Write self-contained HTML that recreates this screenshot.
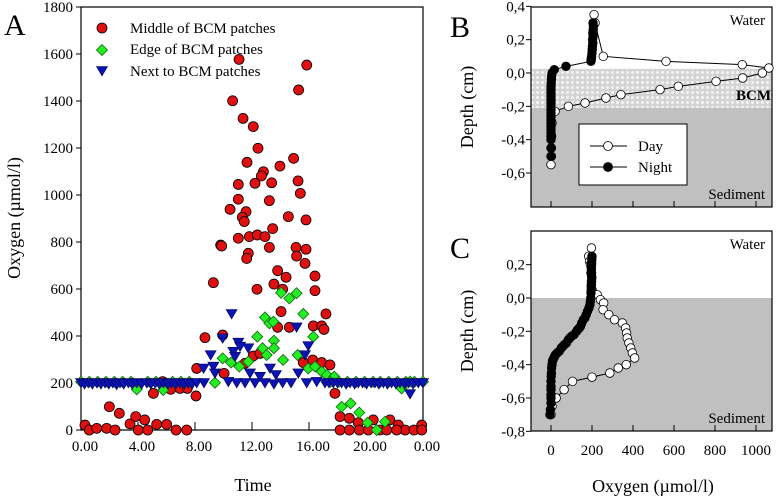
<!DOCTYPE html>
<html><head><meta charset="utf-8"><style>
html,body{margin:0;padding:0;background:#fff;}
svg{display:block;font-family:"Liberation Serif",serif;}
</style></head><body>
<svg id="chart" width="778" height="496" viewBox="0 0 778 496" xmlns="http://www.w3.org/2000/svg">
<defs>
<pattern id="bcmpat" width="5" height="5" patternUnits="userSpaceOnUse">
<rect width="5" height="5" fill="#d4d4d4"/>
<circle cx="2.5" cy="2.5" r="1.5" fill="#f4f4f4"/>
</pattern>
</defs>
<g id="gA"></g>
<g id="gB"></g>
<g id="gC"></g>
</svg>
<script>
// ---------- Panel A data ----------
const middleHours = [11.09,15.84,15.27,10.64,11.37,12.09,12.42,11.65,14.92,13.96,12.80,12.66,11.04,12.21,13.38,15.23,15.39,11.04,13.22,10.46,11.58,11.32,11.46,14.55,15.79,13.45,11.81,12.37,12.91,11.04,9.80,
 9.87,11.74,11.63,13.22,15.09,15.79,15.13,15.72,13.80,14.39,16.42,13.54,14.15,9.29,12.35,16.42,14.04,17.19,13.80,14.62,16.30,16.89,17.05,9.94,8.70,11.51,12.09,12.56,15.60,16.26,16.89,17.47,8.12,10.04,8.07,17.82,
 0.28,0.58,1.10,1.80,2.39,1.99,2.69,3.44,3.84,4.47,4.02,4.68,5.31,6.01,6.67,7.42,5.08,5.73,6.29,6.95,7.46,18.18,18.83,19.46,18.18,18.83,19.53,20.51,20.16,20.98,21.68,22.27,22.74,23.37,23.91,23.91,21.45,22.15];
const middleValues = [1577,1553,1447,1401,1326,1291,1199,1139,1156,1123,1099,1081,1045,1050,1052,1060,1007,982,976,939,929,905,887,908,894,857,823,830,823,816,787,
 783,752,730,777,777,769,740,709,678,650,655,621,599,627,599,593,504,494,437,437,443,443,428,404,393,284,315,326,287,298,287,277,262,241,145,156,
 21,0,7,7,0,99,71,26,57,43,0,0,24,24,0,0,156,206,173,177,177,57,50,31,0,0,0,43,0,0,43,21,0,0,21,0,0,0];
const edgeHours = [14.04,14.62,15.13,15.60,16.30,12.91,13.22,13.50,12.37,13.54,12.74,13.03,13.54,14.18,15.20,9.94,10.53,11.11,11.74,15.95,16.42,16.89,17.26,17.77,9.40,18.29,18.92,19.53,20.11,20.75,21.33,3.91,5.77,22.5,23.09,
 0,0.58,1.17,1.75,2.34,2.92,3.51,4.68,5.26,6.43,7.01,7.6,17.5,18.1,18.7,19.3,19.9,20.5,21.0,21.6,22.2,22.8,23.4,24];
const edgeValues = [584,560,582,494,397,479,454,461,397,380,348,319,348,298,319,305,287,270,291,262,270,248,234,227,201,99,113,74,31,0,35,173,170,177,206,
 205,205,205,205,205,205,205,205,205,205,205,205,205,205,205,205,205,205,205,205,205,205,205,205];
const nextHours = [10.57,9.94,9.10,8.6,9.29,9.40,10.69,11.04,11.74,10.81,11.16,11.86,12.56,13.26,13.68,15.13,15.95,15.72,15.25,23.09,
 0,0.25,0.51,0.8,1.10,1.4,1.68,1.95,2.22,2.5,2.74,3.0,3.32,3.6,3.91,4.25,4.61,4.9,5.19,5.5,5.78,6.1,6.36,6.65,6.95,7.25,7.53,7.8,8.12,8.63,10.34,10.93,11.51,12.21,12.91,13.54,14.15,14.74,15.84,16.54,17.12,17.4,17.71,18.0,18.29,18.6,18.88,19.2,19.46,19.75,20.04,20.35,20.63,20.9,21.22,21.5,21.80,22.1,22.39,22.7,22.97,23.3,23.67,24];
const nextValues = [494,390,319,262,270,241,333,372,348,312,355,241,227,262,234,437,357,319,241,153,
 200,195,200,195,200,195,200,195,200,192,200,195,200,195,200,195,200,195,200,195,200,195,200,195,200,195,200,195,200,200,205,200,200,200,200,195,200,200,200,205,200,200,200,200,200,195,200,195,200,200,195,200,200,195,200,195,200,195,200,195,200,195,200,200];
const xTickLabelsA = ["0.00","4.00","8.00","12.00","16.00","20.00","0.00"];
const xTickHoursA = [0,4,8,12,16,20,24];
const yTicksA = [0,200,400,600,800,1000,1200,1400,1600,1800];

// ---------- Panel B data ----------
const bDayOxygen = [210,215,255,561,933,1063,1031,935,805,621,532,341,268,166,85,20,5,3,2,2,0];
const bDayDepth  = [0.35,0.30,0.10,0.07,0.05,0.03,0.0,-0.03,-0.05,-0.08,-0.10,-0.13,-0.15,-0.18,-0.20,-0.23,-0.30,-0.38,-0.45,-0.50,-0.55];
const bNightOxygen = [205,207,206,204,205,203,204,202,201,200,198,197,196,195,73,16,5,3,2,1,0,0,0,0,0,0,0,0,0,0,0,0,0,0,0,0,0,0,0];
const bNightDepth  = [0.30,0.28,0.26,0.24,0.22,0.20,0.18,0.16,0.14,0.12,0.10,0.09,0.08,0.07,0.04,0.02,0.0,-0.02,-0.04,-0.06,-0.08,-0.10,-0.12,-0.14,-0.16,-0.18,-0.20,-0.22,-0.24,-0.26,-0.28,-0.30,-0.32,-0.34,-0.36,-0.38,-0.40,-0.45,-0.50];

// ---------- Panel C data ----------
const cDayOxygen = [197,184,188,192,195,197,200,225,241,257,254,282,310,348,364,369,372,380,389,397,408,367,328,287,200,105,64,25,5,0];
const cDayDepth  = [0.30,0.25,0.22,0.20,0.15,0.10,0.05,0.02,-0.01,-0.03,-0.07,-0.10,-0.13,-0.15,-0.18,-0.21,-0.24,-0.27,-0.30,-0.33,-0.36,-0.40,-0.42,-0.45,-0.475,-0.50,-0.55,-0.60,-0.65,-0.70];
const cNightOxygen = [200,199,198,198,197,197,198,198,199,198,197,196,196,195,194,192,190,185,178,172,165,158,150,144,138,130,125,112,100,92,85,75,65,58,50,40,30,22,18,14,10,7,5,3,2,1,0,0,0,0,0,0,-3,-5];
const cNightDepth  = [0.25,0.23,0.21,0.20,0.18,0.17,0.15,0.13,0.12,0.10,0.08,0.07,0.05,0.03,0.0,-0.02,-0.04,-0.06,-0.08,-0.10,-0.12,-0.13,-0.15,-0.17,-0.18,-0.19,-0.20,-0.22,-0.23,-0.24,-0.25,-0.27,-0.28,-0.29,-0.30,-0.32,-0.33,-0.34,-0.35,-0.36,-0.37,-0.38,-0.40,-0.42,-0.45,-0.47,-0.50,-0.53,-0.55,-0.58,-0.60,-0.63,-0.67,-0.70];
const depthTicksB = [0.4,0.2,0.0,-0.2,-0.4,-0.6];
const depthTicksC = [0.2,0.0,-0.2,-0.4,-0.6,-0.8];
const oxyTicks = [0,200,400,600,800,1000];

const NS = "http://www.w3.org/2000/svg";
function mk(parent, tag, attrs, text) {
  const el = document.createElementNS(NS, tag);
  for (const k in attrs) el.setAttribute(k, attrs[k]);
  if (text !== undefined) el.textContent = text;
  parent.appendChild(el);
  return el;
}

// Scales
const xA = h => 81 + h * (342 / 24);
const yA = v => 430 - v * (423 / 1800);
const xO = o => 551 + o * (41 / 200);
const yBd = d => 73 - d * (33.33 / 0.2);
const yCd = d => 298 - d * (33.33 / 0.2);

function circle(g, x, y, r, fill, name) {
  const c = mk(g, "circle", {cx: x, cy: y, r: r, fill: fill, stroke: "#000", "stroke-width": 0.8});
  
  
  return c;
}
function diamond(g, x, y, s, name) {
  const p = mk(g, "polygon", {points: `${x},${y-s} ${x+s},${y} ${x},${y+s} ${x-s},${y}`, fill: "#22ee22", stroke: "#116611", "stroke-width": 0.8});
  
  
  return p;
}
function tri(g, x, y, s, name) {
  const p = mk(g, "polygon", {points: `${x-s},${y-s*0.8} ${x+s},${y-s*0.8} ${x},${y+s*0.9}`, fill: "#0a14b4", stroke: "#000050", "stroke-width": 0.6});
  
  
  return p;
}
function txt(g, x, y, s, size, anchor, name, extra) {
  const t = mk(g, "text", Object.assign({x: x, y: y, "font-size": size, "text-anchor": anchor || "start", fill: "#000"}, extra || {}), s);
  
  
  return t;
}

// ---------- Panel A ----------
const gA = document.getElementById("gA");
txt(gA, 4, 35, "A", 30, "start", "panel-a-label");
const frameA = mk(gA, "rect", {x: 81, y: 7, width: 342, height: 423, fill: "none", stroke: "#000", "stroke-width": 1.2});


yTicksA.forEach(v => {
  const l = mk(gA, "line", {x1: 76, x2: 81, y1: yA(v), y2: yA(v), stroke: "#000"});
  
  
  txt(gA, 73, yA(v) + 5, String(v), 15, "end", "y-tick-label-a");
});
xTickHoursA.forEach((h, i) => {
  const l = mk(gA, "line", {x1: xA(h), x2: xA(h), y1: 430, y2: 422, stroke: "#000"});
  
  
  txt(gA, xA(h) + 4, 451, xTickLabelsA[i], 15, "middle", "x-tick-label-a");
});
txt(gA, 253, 491, "Time", 18, "middle", "x-axis-title-a");
txt(gA, 20, 218, "Oxygen (µmol/l)", 18, "middle", "y-axis-title-a", {transform: "rotate(-90 20 218)"});
middleHours.forEach((h, i) => circle(gA, xA(h), yA(middleValues[i]), 5, "#e01010", "middle-point"));
edgeHours.forEach((h, i) => diamond(gA, xA(h), yA(edgeValues[i]), 5.5, "edge-point"));
nextHours.forEach((h, i) => tri(gA, xA(h), yA(nextValues[i]), 5.5, "next-point"));
// legend
const legA = mk(gA, "g", {});


circle(legA, 102, 28, 5, "#e01010", "legend-marker-middle");
diamond(legA, 102, 50, 5.5, "legend-marker-edge");
tri(legA, 102, 71, 5.5, "legend-marker-next");
txt(legA, 130, 33, "Middle of BCM patches", 15, "start", "legend-entry-middle");
txt(legA, 130, 54, "Edge of BCM patches", 15, "start", "legend-entry-edge");
txt(legA, 130, 76, "Next to BCM patches", 15, "start", "legend-entry-next");

// ---------- Depth panels ----------
function depthPanel(g, top, yD, ticks, dayO, dayD, nightO, nightD, isB) {
  const left = 531, w = 241, h = 200;
  if (isB) {
    const band = mk(g, "rect", {x: left, y: yD(0.025), width: w, height: yD(-0.21) - yD(0.025), fill: "url(#bcmpat)"});
    
    
    const sed = mk(g, "rect", {x: left, y: yD(-0.21), width: w, height: top + h - yD(-0.21), fill: "#c0c0c0"});
    
    
  } else {
    const sed = mk(g, "rect", {x: left, y: yD(0), width: w, height: top + h - yD(0), fill: "#c0c0c0"});
    
    
  }
  const fr = mk(g, "rect", {x: left, y: top, width: w, height: h, fill: "none", stroke: "#000", "stroke-width": 1.2});
  
  
  ticks.forEach(d => {
    const l = mk(g, "line", {x1: left - 5, x2: left, y1: yD(d), y2: yD(d), stroke: "#000"});
    
    
    txt(g, left - 6, yD(d) + 5, d.toFixed(1).replace(".", ",").replace("-0,0", "0,0"), 15, "end", "y-tick-label");
  });
  oxyTicks.forEach(o => {
    const l = mk(g, "line", {x1: xO(o), x2: xO(o), y1: top + h, y2: top + h - 6, stroke: "#000"});
    
    
  });
  const dl = mk(g, "polyline", {points: dayO.map((o, i) => xO(o) + "," + yD(dayD[i])).join(" "), fill: "none", stroke: "#000", "stroke-width": 1});
  
  
  dayO.forEach((o, i) => circle(g, xO(o), yD(dayD[i]), 4.3, "#fff", "day-point"));
  const nl = mk(g, "polyline", {points: nightO.map((o, i) => xO(o) + "," + yD(nightD[i])).join(" "), fill: "none", stroke: "#000", "stroke-width": 1});
  
  
  nightO.forEach((o, i) => circle(g, xO(o), yD(nightD[i]), 4.3, "#000", "night-point"));
  txt(g, 765, top + 18, "Water", 15, "end", "water-label");
  txt(g, 765, top + h - 8, "Sediment", 15, "end", "sediment-label");
  txt(g, 473, top + 100, "Depth (cm)", 18, "middle", "y-axis-title", {transform: `rotate(-90 473 ${top + 100})`});
}

const gB = document.getElementById("gB");
txt(gB, 450, 37, "B", 30, "start", "panel-b-label");
depthPanel(gB, 7, yBd, depthTicksB, bDayOxygen, bDayDepth, bNightOxygen, bNightDepth, true);
txt(gB, 771, 100, "BCM", 15, "end", "bcm-label", {"font-weight": "bold"});
const legB = mk(gB, "g", {});


const lbox = mk(legB, "rect", {x: 579, y: 124, width: 108, height: 61, fill: "#fff", stroke: "#000", "stroke-width": 1});


mk(legB, "line", {x1: 590, x2: 627, y1: 146, y2: 146, stroke: "#000"});
circle(legB, 608, 146, 4.5, "#fff", "legend-marker-day");
txt(legB, 638, 151, "Day", 15, "start", "legend-entry-day");
mk(legB, "line", {x1: 590, x2: 627, y1: 167, y2: 167, stroke: "#000"});
circle(legB, 608, 167, 4.5, "#000", "legend-marker-night");
txt(legB, 638, 172, "Night", 15, "start", "legend-entry-night");

const gC = document.getElementById("gC");
txt(gC, 450, 258, "C", 30, "start", "panel-c-label");
depthPanel(gC, 231, yCd, depthTicksC, cDayOxygen, cDayDepth, cNightOxygen, cNightDepth, false);
oxyTicks.forEach(o => txt(gC, xO(o), 455, String(o), 15, "middle", "x-tick-label-c"));
txt(gC, 653, 492, "Oxygen (µmol/l)", 18, "middle", "x-axis-title-c");
</script>
</body></html>
